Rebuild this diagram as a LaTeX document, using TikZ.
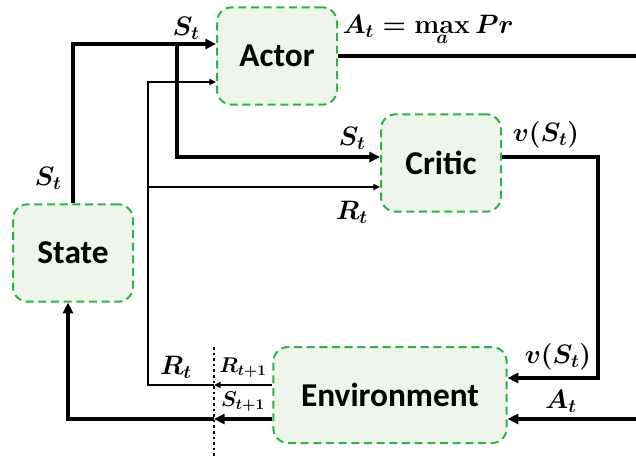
\documentclass[tikz,border=0pt]{standalone}
\usepackage{fix-cm}
\usepackage[no-math]{fontspec}
\setmainfont{Carlito}
\usetikzlibrary{arrows.meta,positioning}
\definecolor{boxgreen}{HTML}{2DB34A}
\definecolor{boxfill}{HTML}{EEF5EA}
\tikzset{
  block/.style={draw=boxgreen, fill=boxfill, line width=1.5pt, dash pattern=on 6pt off 3.5pt,
    rounded corners=11pt, minimum width=90pt, minimum height=73pt, inner sep=0pt,
    font=\fontsize{25}{30}\selectfont\bfseries},
  heavy/.style={line width=2.4pt},
  light/.style={line width=1.4pt},
  lab/.style={font=\fontsize{20}{24}\selectfont\boldmath, inner sep=0pt},
  small lab/.style={font=\fontsize{16}{19}\selectfont\boldmath, inner sep=0pt},
}
\begin{document}
\begin{tikzpicture}[x=0.75pt, y=-0.75pt, >={Triangle[length=8pt,width=7.5pt]}]
\useasboundingbox (0,0) rectangle (636,457);
% blocks
\node[block] (actor) at (277,56) {Actor};
\node[block] (critic) at (441,163) {Critic};
\node[block] (state) at (73,253) {State};
\node[block, minimum width=175pt, minimum height=72pt] (env) at (390,395) {Environment};
% bend points
\coordinate (topRow) at (0,44);
\coordinate (stRow) at (0,157);
\coordinate (rRowA) at (0,82);
\coordinate (rRowC) at (0,187);
\coordinate (envR) at (0,385);
\coordinate (envS) at (0,419);
\coordinate (vRow) at (0,378);
\coordinate (split) at (177,44);
\coordinate (rTrunk) at (148,0);
\coordinate (back) at (68,0);
\coordinate (cut) at (214,0);
\coordinate (rightEdge) at (636,0);
\coordinate (vTurn) at (598,157);
\coordinate (cutTop) at (214,347);
\coordinate (cutBot) at (214,457);
% state to actor and critic
\draw[heavy,->] (state.north) |- (actor.west |- topRow);
\draw[heavy,->] (split) |- (critic.west |- stRow);
% reward
\draw[light,-{Triangle[length=5pt,width=4.5pt]}] (env.west |- envR) -- (cut |- envR);
\draw[light,-{Triangle[length=5pt,width=4.5pt]}] (cut |- envR) -| (rTrunk |- rRowA) -- (actor.west |- rRowA);
\draw[light,-{Triangle[length=5pt,width=4.5pt]}] (rTrunk |- rRowC) -- (critic.west |- rRowC);
% next state
\draw[heavy,->] (env.west |- envS) -- (cut |- envS);
\draw[heavy,->] (cut |- envS) -| (back |- state.south);
% action
\draw[heavy] (actor.east) -- (actor.east -| rightEdge);
\draw[heavy,->] (rightEdge |- envS) -- (env.east |- envS);
% value
\draw[heavy,->] (critic.east |- stRow) -- (vTurn) |- (env.east |- vRow);
\draw[line width=2pt, dash pattern=on 2pt off 2.2pt] (cutTop) -- (cutBot);
% labels
\node[lab] (lSa) at (48,178) {$S_t$};
\node[lab] (lSb) at (186,28) {$S_t$};
\node[lab] (lA) at (428,30) {$A_t=\max\limits_{a}Pr$};
\node[lab] (lSc) at (352,138) {$S_t$};
\node[lab] (lRc) at (352,212) {$R_t$};
\node[lab] (lVa) at (546,135) {$v(S_t)$};
\node[lab] (lVb) at (558,357) {$v(S_t)$};
\node[lab] (lAb) at (561,401) {$A_t$};
\node[lab] (lRb) at (176,367) {$R_t$};
\node[small lab] (lRn) at (243,368) {$R_{t+1}$};
\node[small lab] (lSn) at (243,402) {$S_{t+1}$};
\end{tikzpicture}
\end{document}
